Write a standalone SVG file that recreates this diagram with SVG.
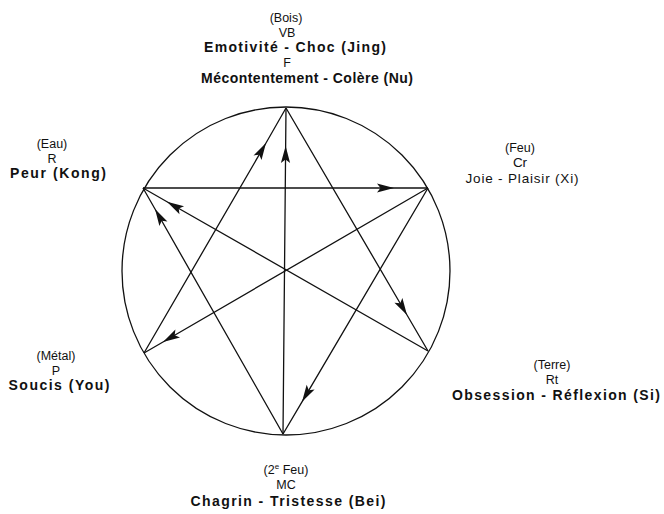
<svg xmlns="http://www.w3.org/2000/svg" width="664" height="514" viewBox="0 0 664 514">
<style>
  text { font-family: "Liberation Sans", Arial, sans-serif; fill: #111; text-anchor: middle; }
  .s { font-size: 12.5px; }
  .b { font-size: 14px; font-weight: bold; }
  .r { font-size: 13.5px; }
  .ln { fill: none; stroke: #111; stroke-width: 1.3; marker-mid: url(#ah); }
  .circ { fill: none; stroke: #111; stroke-width: 1.3; }
</style>
<defs>
  <marker id="ah" markerUnits="userSpaceOnUse" viewBox="-18 -6 19 12" refX="0" refY="0" markerWidth="19" markerHeight="12" orient="auto">
    <path d="M0,0 L-17,-4.6 L-13.5,0 L-17,4.6 Z" fill="#111"/>
  </marker>
</defs>
<rect width="664" height="514" fill="#fff"/>
<circle class="circ" cx="286" cy="271" r="164"/>
<g id="connectors">
  <path class="ln" d="M143,188 L394,188 L428,188"/>
  <path class="ln" d="M428,188 L302,401.8 L283,434"/>
  <path class="ln" d="M283,434 L155,209 L143,188"/>
  <path class="ln" d="M428,351 L167,201.7 L143,188"/>
  <path class="ln" d="M428,188 L163,342 L144,353"/>
  <path class="ln" d="M283,434 L285.65,146 L286,108"/>
  <path class="ln" d="M144,353 L266,143 L286,108"/>
  <path class="ln" d="M286,108 L407,315 L428,351"/>
</g>
<g id="node-bois">
  <text class="s" x="286" y="22">(Bois)</text>
  <text class="s" x="287" y="37">VB</text>
  <text class="b" x="295" y="52" textLength="182" lengthAdjust="spacing">Emotivité - Choc (Jing)</text>
  <text class="s" x="287" y="67">F</text>
  <text class="b" x="307" y="83" textLength="212" lengthAdjust="spacing">Mécontentement - Colère (Nu)</text>
</g>
<g id="node-eau">
  <text class="s" x="52" y="148">(Eau)</text>
  <text class="s" x="52" y="163">R</text>
  <text class="b" x="58" y="178" textLength="96" lengthAdjust="spacing">Peur (Kong)</text>
</g>
<g id="node-feu">
  <text class="s" x="520" y="152">(Feu)</text>
  <text class="r" x="520" y="167">Cr</text>
  <text class="r" x="522" y="183" textLength="113" lengthAdjust="spacing">Joie - Plaisir (Xi)</text>
</g>
<g id="node-metal">
  <text class="s" x="56" y="360">(Métal)</text>
  <text class="s" x="56" y="375">P</text>
  <text class="b" x="59" y="390" textLength="101" lengthAdjust="spacing">Soucis (You)</text>
</g>
<g id="node-terre">
  <text class="s" x="552" y="369">(Terre)</text>
  <text class="s" x="552" y="384">Rt</text>
  <text class="b" x="556" y="400" textLength="208" lengthAdjust="spacing">Obsession - Réflexion (Si)</text>
</g>
<g id="node-2feu">
  <text class="s" x="286" y="474">(2<tspan font-size="8" dy="-5">e</tspan><tspan dy="5"> Feu)</tspan></text>
  <text class="s" x="286" y="489">MC</text>
  <text class="b" x="288" y="506" textLength="195" lengthAdjust="spacing">Chagrin - Tristesse (Bei)</text>
</g>
</svg>
